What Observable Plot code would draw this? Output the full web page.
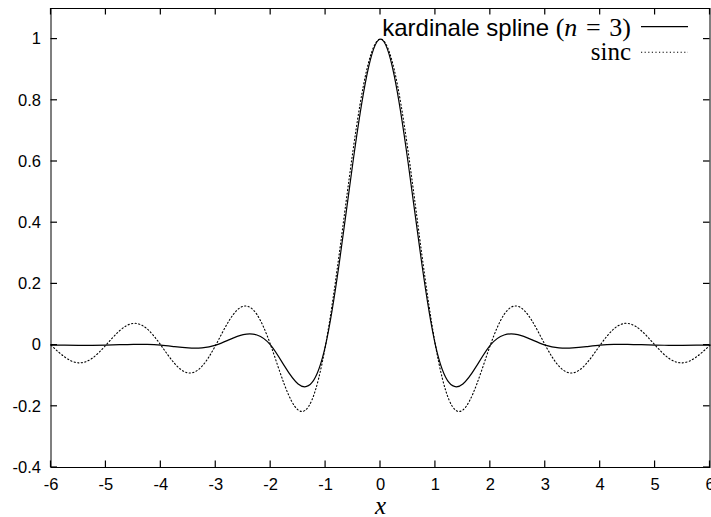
<!DOCTYPE html>
<html>
<head>
<meta charset="utf-8">
<script src="https://cdn.jsdelivr.net/npm/d3@7"></script>
<script src="https://cdn.jsdelivr.net/npm/@observablehq/plot@0.6"></script>
<style>
  body { margin: 0; background: #fff; }
</style>
</head>
<body>
<div id="chart"></div>
<script>
// ---- data ----
const xValues = [-6, -5.75, -5.5, -5.25, -5, -4.75, -4.5, -4.25, -4, -3.75, -3.5, -3.25, -3, -2.75, -2.5, -2.25, -2, -1.75, -1.5, -1.25, -1, -0.75, -0.5, -0.25,
  0, 0.25, 0.5, 0.75, 1, 1.25, 1.5, 1.75, 2, 2.25, 2.5, 2.75, 3, 3.25, 3.5, 3.75, 4, 4.25, 4.5, 4.75, 5, 5.25, 5.5, 5.75, 6];

const splineValues = [0, -0.0004, -0.0007, -0.0006, 0, 0.0013, 0.0025, 0.0024, 0, -0.0049, -0.0091, -0.0088, 0, 0.018, 0.034, 0.033, 0, -0.068, -0.127, -0.123, 0, 0.269, 0.600, 0.881,
  1, 0.881, 0.600, 0.269, 0, -0.123, -0.127, -0.068, 0, 0.033, 0.034, 0.018, 0, -0.0088, -0.0091, -0.0049, 0, 0.0024, 0.0025, 0.0013, 0, -0.0006, -0.0007, -0.0004, 0];

const sincValues = [0, -0.039, -0.058, -0.043, 0, 0.047, 0.071, 0.053, 0, -0.060, -0.091, -0.069, 0, 0.082, 0.127, 0.100, 0, -0.129, -0.212, -0.180, 0, 0.300, 0.637, 0.900,
  1, 0.900, 0.637, 0.300, 0, -0.180, -0.212, -0.129, 0, 0.100, 0.127, 0.082, 0, -0.069, -0.091, -0.060, 0, 0.053, 0.071, 0.047, 0, -0.043, -0.058, -0.039, 0];

const xTicks = [-6, -5, -4, -3, -2, -1, 0, 1, 2, 3, 4, 5, 6];
const yTicks = [-0.4, -0.2, 0, 0.2, 0.4, 0.6, 0.8, 1];
const seriesNames = ["kardinale spline ", "sinc"];
const xLabel = "x";

// ---- build ----
const splineRows = xValues.map((x, i) => ({x, y: splineValues[i]}));
const sincRows = xValues.map((x, i) => ({x, y: sincValues[i]}));

const sans = "'Liberation Sans', Arial, Helvetica, sans-serif";
const serif = "'Liberation Serif', 'Times New Roman', serif";

const W = 711, H = 517;
const mL = 50.5, mR = 1.5, mT = 8, mB = 50;
const tickLen = 6.5;

const chart = Plot.plot({
  width: W,
  height: H,
  marginLeft: mL,
  marginRight: mR,
  marginTop: mT,
  marginBottom: mB,
  x: {domain: [-6, 6]},
  y: {domain: [-0.4, 1.1]},
  style: {fontFamily: sans, fontSize: "16.5px", color: "black", background: "white", overflow: "visible"},
  marks: [
    Plot.line(sincRows, {x: "x", y: "y", curve: "natural", stroke: "black", strokeWidth: 1.1, strokeDasharray: "1.2,2.4"}),
    Plot.line(splineRows, {x: "x", y: "y", curve: "natural", stroke: "black", strokeWidth: 1.2}),
    // tick labels
    Plot.axisX(xTicks, {anchor: "bottom", tickSize: 0, tickPadding: 11, tickFormat: d => String(d), label: null}),
    Plot.axisY(yTicks, {anchor: "left", tickSize: 0, tickPadding: 10, tickFormat: d => String(d), label: null}),
    Plot.frame({stroke: "black", strokeWidth: 1}),
    Plot.text([xLabel], {frameAnchor: "bottom", text: d => d, dy: 38, lineAnchor: "middle", fontFamily: serif, fontStyle: "italic", fontSize: 25})
  ]
});

document.getElementById("chart").append(chart);

// ---- inward ticks on all four sides (filled rects), placed with Plot's own scales ----
const svg = d3.select(chart);
const sxd = chart.scale("x"), syd = chart.scale("y");
const mk = (s, dom, rng) => {
  if (s && typeof s.apply === "function" && Number.isFinite(s.apply(dom[0]))) return v => s.apply(v);
  const d = s && s.domain ? s.domain : dom;
  const r = s && s.range ? s.range : rng;
  return d3.scaleLinear(d, r);
};
const fx = mk(sxd, [-6, 6], [mL, W - mR]);
const fy = mk(syd, [-0.4, 1.1], [H - mB, mT]);
const x0 = mL, x1 = W - mR, y0 = mT, y1 = H - mB;
const tg = svg.append("g").attr("class", "inward-ticks").attr("fill", "#000").attr("stroke", "none");
for (const t of xTicks) {
  const p = fx(t);
  tg.append("rect").attr("x", p - 0.6).attr("width", 1.2).attr("y", y1 - tickLen).attr("height", tickLen);
  tg.append("rect").attr("x", p - 0.6).attr("width", 1.2).attr("y", y0).attr("height", tickLen);
}
for (const t of yTicks) {
  const p = fy(t);
  tg.append("rect").attr("x", x0).attr("width", tickLen).attr("y", p - 0.6).attr("height", 1.2);
  tg.append("rect").attr("x", x1 - tickLen).attr("width", tickLen).attr("y", p - 0.6).attr("height", 1.2);
}

// ---- legend (gnuplot style, top right inside frame) ----
const g = svg.append("g").attr("class", "legend");
const t1 = g.append("text").attr("x", 631).attr("y", 35.5).attr("text-anchor", "end").attr("fill", "black");
t1.append("tspan").attr("font-family", sans).attr("font-size", 24).text(seriesNames[0]);
t1.append("tspan").attr("font-family", serif).attr("font-size", 26).text("(");
t1.append("tspan").attr("font-family", serif).attr("font-size", 26).attr("font-style", "italic").text("n");
t1.append("tspan").attr("font-family", serif).attr("font-size", 26).text("\u2004=\u20043)");
g.append("line").attr("x1", 641).attr("x2", 688).attr("y1", 26.7).attr("y2", 26.7).attr("stroke", "black").attr("stroke-width", 1.2);

g.append("text").attr("x", 631).attr("y", 60).attr("text-anchor", "end").attr("fill", "black")
  .attr("font-family", serif).attr("font-size", 25).text(seriesNames[1]);
g.append("line").attr("x1", 641).attr("x2", 688).attr("y1", 52.3).attr("y2", 52.3).attr("stroke", "black").attr("stroke-width", 1.1).attr("stroke-dasharray", "1.2,2.4");
</script>
</body>
</html>
